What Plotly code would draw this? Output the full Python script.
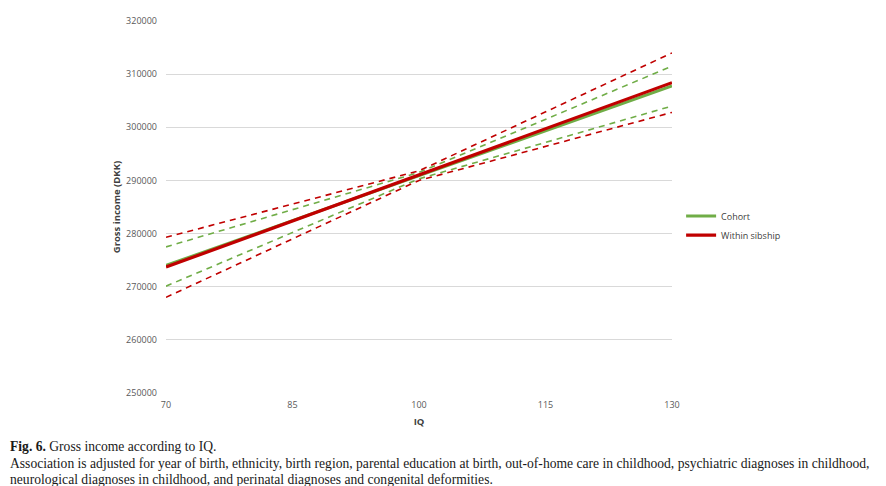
import plotly.graph_objects as go

iq = [70, 100, 130]
cohort = [274000, 290900, 307800]
cohort_lo = [270100, 290300, 304000]
cohort_hi = [277500, 291500, 311500]
within = [273700, 291000, 308400]
within_lo = [268000, 290000, 302800]
within_hi = [279300, 291800, 314000]

y_ticks = [250000, 260000, 270000, 280000, 290000, 300000, 310000, 320000]
x_ticks = [70, 85, 100, 115, 130]

green = "#70AD47"
red = "#C00000"

fig = go.Figure()
for vals in (cohort_lo, cohort_hi):
    fig.add_trace(go.Scatter(x=iq, y=vals, mode="lines", showlegend=False,
                             line=dict(color=green, width=1.6, dash="6px,5px")))
for vals in (within_lo, within_hi):
    fig.add_trace(go.Scatter(x=iq, y=vals, mode="lines", showlegend=False,
                             line=dict(color=red, width=1.6, dash="6px,5px")))
fig.add_trace(go.Scatter(x=iq, y=cohort, mode="lines", name="Cohort",
                         line=dict(color=green, width=3)))
fig.add_trace(go.Scatter(x=iq, y=within, mode="lines", name="Within sibship",
                         line=dict(color=red, width=3.2)))

sans = "Open Sans, Liberation Sans, sans-serif"
tick_font = dict(family=sans, size=9, color="#595959")
fig.update_layout(
    width=886, height=486,
    margin=dict(l=158, r=222, t=13, b=101),
    plot_bgcolor="white", paper_bgcolor="white",
    showlegend=True,
    legend=dict(x=1.018, y=0.45, xanchor="left", yanchor="middle",
                font=dict(family=sans, size=9, color="#404040"),
                bgcolor="rgba(0,0,0,0)", itemwidth=30, tracegroupgap=4),
    xaxis=dict(range=[70, 130], tickvals=x_ticks, ticktext=[str(v) for v in x_ticks],
               showgrid=False, zeroline=False, showline=False, ticks="", automargin=False,
               tickfont=tick_font, ticklabelstandoff=5,
               title=dict(text="<b>IQ</b>", font=dict(family=sans, size=9.5, color="#404040"),
                          standoff=8)),
    yaxis=dict(range=[250000, 320000], tickvals=y_ticks, ticktext=[str(v) for v in y_ticks],
               showgrid=True, gridcolor="#D9D9D9", gridwidth=1, zeroline=False, showline=False,
               ticks="", tickfont=tick_font, ticklabelstandoff=8, automargin=False,
               title=dict(text="<b>Gross income (DKK)</b>",
                          font=dict(family=sans, size=9.5, color="#404040"),
                          standoff=3)),
)

cap_font = dict(family="Liberation Serif, Times New Roman, serif", size=13.6, color="#1a1a1a")
H = 372.0
W = 506.0
def px(xp):
    return (xp - 166) / W
def py(yp):
    return (393 - yp) / H

captions = [
    (446, "<b>Fig. 6.</b> Gross income according to IQ."),
    (463, "Association is adjusted for year of birth, ethnicity, birth region, parental education at birth, out-of-home care in childhood, psychiatric diagnoses in childhood,"),
    (479, "neurological diagnoses in childhood, and perinatal diagnoses and congenital deformities."),
]
for yp, txt in captions:
    fig.add_annotation(text=txt, xref="paper", yref="paper", x=px(8), y=py(yp),
                       xanchor="left", yanchor="middle", showarrow=False, font=cap_font, align="left")

fig.write_html("out.html")
